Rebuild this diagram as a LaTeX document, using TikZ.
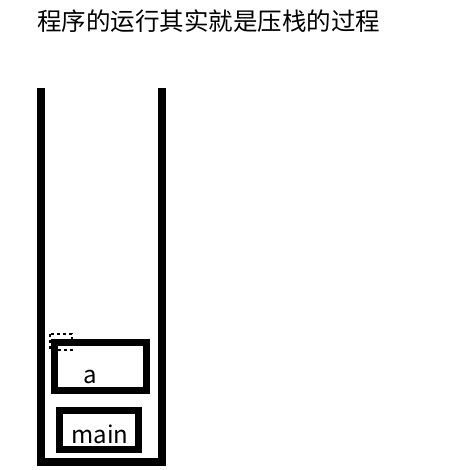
\documentclass[tikz,border=0pt]{standalone}
\usepackage{fontspec}
\setmainfont{Noto Sans CJK SC}
\usepackage{tikz}
\begin{document}
\begin{tikzpicture}[x=1pt, y=-1pt,
  wall/.style={black, line width=8pt, line join=miter},
  frame/.style={draw=black, line width=7pt, inner sep=0pt},
  label/.style={font=\fontsize{24}{28}\selectfont, inner sep=0pt, anchor=base}]
  \useasboundingbox[fill=white] (0,0) rectangle (455,470);
  \node[label, font=\fontsize{24.5}{28}\selectfont, anchor=base west] (title) at (37,31) {程序的运行其实就是压栈的过程};
  \coordinate (topL) at (41,88);
  \coordinate (topR) at (162,88);
  \draw[wall] (topL) -- (41,462) -- (162,462) -- (topR);
  \node[frame, minimum width=92pt, minimum height=48pt] (fa) at (100,366) {};
  \node[frame, minimum width=79.5pt, minimum height=39pt] (fmain) at (98.75,430) {};
  \node[label] (ta) at (90,383) {a};
  \node[label] (tmain) at (100,443) {main};
  \draw[black, line width=1.2pt, dashed] (50,334) rectangle (72,350);
\end{tikzpicture}
\end{document}
